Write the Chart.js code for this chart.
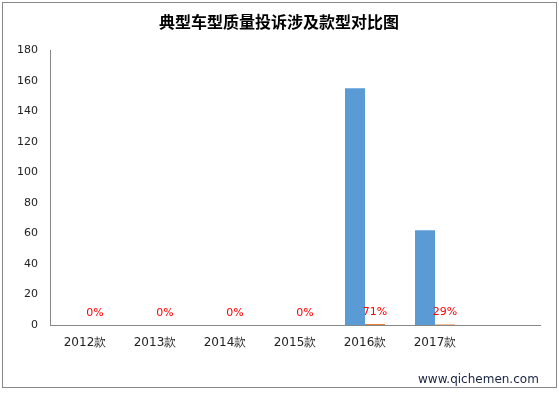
<!DOCTYPE html>
<html>
<head>
<meta charset="utf-8">
<script src="https://cdn.jsdelivr.net/npm/chart.js@4/dist/chart.umd.min.js"></script>
<style>
  html, body { margin: 0; padding: 0; background: #fff; }
  #wrap { width: 559px; height: 393px; position: relative; }
</style>
</head>
<body>
<div id="wrap"><canvas id="chart" width="559" height="393"></canvas></div>
<script>
// chart data
const categories = ["2012款", "2013款", "2014款", "2015款", "2016款", "2017款", ""];
const complaintCounts = [0, 0, 0, 0, 155, 62, null];
const shareValues = [0, 0, 0, 0, 0.71, 0.29, null];
const shareLabels = ["0%", "0%", "0%", "0%", "71%", "29%", ""];
const yTicks = [0, 20, 40, 60, 80, 100, 120, 140, 160, 180];

const tickFont = { family: "'DejaVu Sans', Verdana, sans-serif", size: 11 };

// white background + outer frame + watermark
const frame = {
  id: "frame",
  beforeDraw(chart) {
    const ctx = chart.ctx;
    ctx.save();
    ctx.fillStyle = "#fff";
    ctx.fillRect(0, 0, chart.width, chart.height);
    ctx.strokeStyle = "#888";
    ctx.lineWidth = 1;
    ctx.strokeRect(2.5, 2.5, 554, 385);
    ctx.restore();
  },
  afterDraw(chart) {
    const ctx = chart.ctx;
    ctx.save();
    ctx.font = "12px 'DejaVu Sans', sans-serif";
    ctx.fillStyle = "#1a2440";
    ctx.textAlign = "left";
    ctx.textBaseline = "alphabetic";
    ctx.fillText("www.qichemen.com", 418, 383);
    ctx.restore();
  }
};

// red percentage labels over the orange bars
const shareLabelPlugin = {
  id: "shareLabels",
  afterDatasetsDraw(chart) {
    const ctx = chart.ctx;
    const meta = chart.getDatasetMeta(1);
    ctx.save();
    ctx.font = "11px 'DejaVu Sans', Verdana, sans-serif";
    ctx.fillStyle = "#ff0000";
    ctx.textAlign = "center";
    ctx.textBaseline = "middle";
    meta.data.forEach((bar, i) => {
      if (!shareLabels[i]) return;
      ctx.fillText(shareLabels[i], bar.x, bar.y - 12);
    });
    ctx.restore();
  }
};

new Chart(document.getElementById("chart"), {
  type: "bar",
  data: {
    labels: categories,
    datasets: [
      {
        label: "投诉量",
        data: complaintCounts,
        backgroundColor: "#5b9bd5",
        categoryPercentage: 40 / 70,
        barPercentage: 1
      },
      {
        label: "占比",
        data: shareValues,
        backgroundColor: "#ed7d31",
        categoryPercentage: 40 / 70,
        barPercentage: 1
      }
    ]
  },
  options: {
    responsive: false,
    animation: false,
    devicePixelRatio: 1,
    layout: { padding: { left: 18, right: 19, top: 0, bottom: 38 } },
    plugins: {
      legend: { display: false },
      tooltip: { enabled: false },
      title: {
        display: true,
        text: "典型车型质量投诉涉及款型对比图",
        color: "#000",
        font: { family: "'Noto Sans CJK SC', sans-serif", size: 16, weight: "bold" },
        padding: { top: 12, bottom: 19 }
      }
    },
    scales: {
      x: {
        grid: { display: false, drawTicks: false },
        border: { display: true, color: "#888" },
        ticks: { color: "#222", font: { family: tickFont.family, size: 12 }, padding: 11, maxRotation: 0 },
        afterFit(scale) { scale.height = 30; }
      },
      y: {
        min: 0,
        max: 180,
        grid: { display: false, drawTicks: false },
        border: { display: true, color: "#888" },
        ticks: {
          color: "#222",
          font: tickFont,
          padding: 12,
          stepSize: 20,
          callback: (v) => yTicks.includes(v) ? v : ""
        },
        afterFit(scale) { scale.width = 32; }
      }
    }
  },
  plugins: [frame, shareLabelPlugin]
});
</script>
</body>
</html>
